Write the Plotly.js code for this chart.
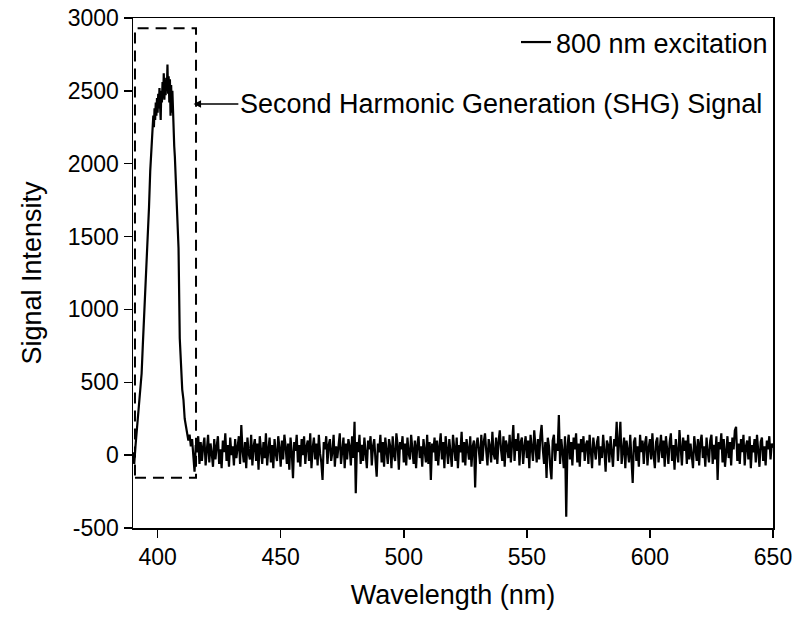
<!DOCTYPE html>
<html>
<head>
<meta charset="utf-8">
<script src="https://cdn.plot.ly/plotly-3.0.1.min.js"></script>
<style>html,body{margin:0;padding:0;background:#fff;}#chart{width:797px;height:617px;}</style>
</head>
<body>
<div id="chart"></div>
<script>
// SHG peak region
const peakWavelength = [390,390.5,391,391.5,392,392.5,393,393.5,394,394.5,395,395.5,396,396.5,397,397.5,
  398,398.25,398.5,398.75,399,399.25,399.5,399.75,400,400.25,400.5,400.75,401,401.25,401.5,401.75,
  402,402.25,402.5,402.75,403,403.25,403.5,403.75,404,404.25,404.5,404.75,405,405.25,405.5,405.75,
  406,406.25,406.5,406.75,407,407.5,408,408.5,409,409.5,410,410.5,411,411.5,412,412.5];
const peakSignal = [20,-60,60,150,260,380,430,560,760,950,1130,1330,1450,1700,1950,2100,
  2200,2330,2250,2380,2300,2420,2330,2450,2350,2480,2380,2520,2400,2300,2500,2420,
  2560,2450,2620,2440,2560,2470,2590,2500,2680,2480,2600,2420,2580,2330,2540,2350,
  2500,2300,2200,2120,2050,1850,1650,1420,800,600,450,380,250,200,150,100];
// Baseline region (0.5 nm sampling)
const baseWavelength = [
  413,413.5,414,414.5,415,415.5,416,416.5,417,417.5, 418,418.5,419,419.5,420,420.5,421,421.5,422,422.5,
  423,423.5,424,424.5,425,425.5,426,426.5,427,427.5, 428,428.5,429,429.5,430,430.5,431,431.5,432,432.5,
  433,433.5,434,434.5,435,435.5,436,436.5,437,437.5, 438,438.5,439,439.5,440,440.5,441,441.5,442,442.5,
  443,443.5,444,444.5,445,445.5,446,446.5,447,447.5, 448,448.5,449,449.5,450,450.5,451,451.5,452,452.5,
  453,453.5,454,454.5,455,455.5,456,456.5,457,457.5, 458,458.5,459,459.5,460,460.5,461,461.5,462,462.5,
  463,463.5,464,464.5,465,465.5,466,466.5,467,467.5, 468,468.5,469,469.5,470,470.5,471,471.5,472,472.5,
  473,473.5,474,474.5,475,475.5,476,476.5,477,477.5, 478,478.5,479,479.5,480,480.5,481,481.5,482,482.5,
  483,483.5,484,484.5,485,485.5,486,486.5,487,487.5, 488,488.5,489,489.5,490,490.5,491,491.5,492,492.5,
  493,493.5,494,494.5,495,495.5,496,496.5,497,497.5, 498,498.5,499,499.5,500,500.5,501,501.5,502,502.5,
  503,503.5,504,504.5,505,505.5,506,506.5,507,507.5, 508,508.5,509,509.5,510,510.5,511,511.5,512,512.5,
  513,513.5,514,514.5,515,515.5,516,516.5,517,517.5, 518,518.5,519,519.5,520,520.5,521,521.5,522,522.5,
  523,523.5,524,524.5,525,525.5,526,526.5,527,527.5, 528,528.5,529,529.5,530,530.5,531,531.5,532,532.5,
  533,533.5,534,534.5,535,535.5,536,536.5,537,537.5, 538,538.5,539,539.5,540,540.5,541,541.5,542,542.5,
  543,543.5,544,544.5,545,545.5,546,546.5,547,547.5, 548,548.5,549,549.5,550,550.5,551,551.5,552,552.5,
  553,553.5,554,554.5,555,555.5,556,556.5,557,557.5, 558,558.5,559,559.5,560,560.5,561,561.5,562,562.5,
  563,563.5,564,564.5,565,565.5,566,566.5,567,567.5, 568,568.5,569,569.5,570,570.5,571,571.5,572,572.5,
  573,573.5,574,574.5,575,575.5,576,576.5,577,577.5, 578,578.5,579,579.5,580,580.5,581,581.5,582,582.5,
  583,583.5,584,584.5,585,585.5,586,586.5,587,587.5, 588,588.5,589,589.5,590,590.5,591,591.5,592,592.5,
  593,593.5,594,594.5,595,595.5,596,596.5,597,597.5, 598,598.5,599,599.5,600,600.5,601,601.5,602,602.5,
  603,603.5,604,604.5,605,605.5,606,606.5,607,607.5, 608,608.5,609,609.5,610,610.5,611,611.5,612,612.5,
  613,613.5,614,614.5,615,615.5,616,616.5,617,617.5, 618,618.5,619,619.5,620,620.5,621,621.5,622,622.5,
  623,623.5,624,624.5,625,625.5,626,626.5,627,627.5, 628,628.5,629,629.5,630,630.5,631,631.5,632,632.5,
  633,633.5,634,634.5,635,635.5,636,636.5,637,637.5, 638,638.5,639,639.5,640,640.5,641,641.5,642,642.5,
  643,643.5,644,644.5,645,645.5,646,646.5,647,647.5, 648,648.5,649,649.5,650];
const baseSignal = [
  140,60,110,-20,-114,70,20,130,-60,90,   -40,60,120,-70,30,140,-50,80,10,-80,
  110,-30,60,130,-60,40,-90,100,20,150,   -40,70,-80,120,0,60,-70,110,-20,50,
  130,-60,207,30,-50,90,-90,120,10,-30,   140,-70,60,110,-40,80,-100,130,20,-60,
  90,-20,150,-70,40,120,-50,70,-90,110,   10,-40,130,50,-80,100,-30,140,60,-60,
  80,-100,120,20,-159,90,30,140,-50,70,   -80,110,0,130,-60,60,100,-40,150,-90,
  50,120,-30,80,-70,140,10,-50,-170,90,   40,130,-60,70,110,-40,20,140,-80,60,
  -20,100,150,-60,30,120,-90,80,-30,110,  60,-70,130,-20,229,-262,90,20,140,-60,
  70,-40,120,10,-90,100,40,130,-70,60,    110,-30,-148,80,20,140,-50,90,-80,120,
  30,-60,110,60,-90,130,0,-40,150,70,     -100,90,40,130,-50,80,-70,120,10,-30,
  140,50,-60,100,-90,70,130,-20,60,-80,   110,30,-50,140,-60,90,-170,80,20,120,
  -40,100,-70,60,150,-30,90,-90,130,40,   -60,110,10,-80,140,50,-40,120,-90,70,
  20,160,-50,90,-70,110,40,-30,130,-80,   60,100,-221,70,120,20,-60,140,-40,90,
  150,30,-70,110,60,-50,160,10,-30,120,   -60,90,170,40,-40,130,-80,100,60,-20,
  140,-50,80,207,-40,110,30,150,-70,90,   120,-60,60,130,-20,100,-90,140,50,-40,
  170,20,-50,110,-30,130,207,40,-60,90,   -157,120,60,-80,-166,100,140,-40,80,30,
  275,-60,110,20,-90,130,-422,60,140,-30, 90,-70,120,40,150,-50,80,-80,110,20,
  130,-40,70,100,-60,140,10,-90,120,50,   -30,90,130,-70,60,-20,140,30,-114,100,
  70,-50,130,20,-80,110,60,229,-40,90,    229,-60,50,120,-90,100,30,-50,140,10,
  -191,90,120,-40,60,-80,140,20,100,-60,  80,130,-70,50,110,-30,150,0,-90,90,
  120,-50,60,140,-20,100,-80,130,40,-60,  90,150,-40,70,-100,110,20,-50,172,60,
  -70,120,30,100,-60,140,-30,80,10,-90,   130,50,-40,110,-70,90,140,-20,60,-80,
  120,20,-50,100,140,-60,70,-30,130,-170, 90,40,150,-50,110,-80,60,130,-20,90,
  -70,120,40,170,195,-40,80,-60,110,20,   140,-70,60,100,-30,130,-90,70,20,110,
  -50,140,30,-80,90,120,-40,60,-70,100,   40,130,-30,80,50];

const seriesName = '800 nm excitation';
const annotationText = 'Second Harmonic Generation (SHG) Signal';
const xTicks = [400,450,500,550,600,650];
const yTicks = [-500,0,500,1000,1500,2000,2500,3000];
// Dashed highlight box around the SHG peak (data units)
const boxWavelength = [390.8, 415.6];
const boxSignal = [-155, 2930];
// Arrow head / tail (data units)
const arrowHead = [414.6, 2410];
const arrowTail = [432.8, 2410];

const wavelength = peakWavelength.concat(baseWavelength);
const signal = peakSignal.concat(baseSignal);

const FONT = 'Liberation Sans, Arial, Helvetica, sans-serif';

const trace = {
  x: wavelength, y: signal, type: 'scatter', mode: 'lines',
  name: seriesName, line: {color: '#000', width: 2.2}
};

const layout = {
  width: 797, height: 617,
  margin: {l: 133, r: 24, t: 18, b: 89},
  paper_bgcolor: '#fff', plot_bgcolor: '#fff',
  font: {family: FONT, color: '#000'},
  showlegend: true,
  legend: {x: 1, xanchor: 'right', y: 1, yanchor: 'top', bgcolor: 'rgba(0,0,0,0)',
           font: {size: 27, family: FONT, color: '#000'}},
  xaxis: {
    range: [390, 650], tickvals: xTicks, ticktext: xTicks.map(String),
    ticks: 'outside', ticklen: 8, tickwidth: 1.5, tickcolor: '#000',
    showline: true, linecolor: '#000', linewidth: 1.5, mirror: true,
    showgrid: false, zeroline: false,
    tickfont: {size: 23, family: FONT},
    title: {text: 'Wavelength (nm)', font: {size: 27, family: FONT}, standoff: 16}
  },
  yaxis: {
    range: [-500, 3000], tickvals: yTicks, ticktext: yTicks.map(String),
    ticks: 'outside', ticklen: 8, tickwidth: 1.5, tickcolor: '#000',
    showline: true, linecolor: '#000', linewidth: 1.5, mirror: true,
    showgrid: false, zeroline: false,
    tickfont: {size: 23, family: FONT},
    title: {text: 'Signal Intensity', font: {size: 27, family: FONT}, standoff: 18}
  },
  shapes: [{
    type: 'rect', xref: 'x', yref: 'y',
    x0: boxWavelength[0], x1: boxWavelength[1], y0: boxSignal[0], y1: boxSignal[1],
    line: {color: '#000', width: 2, dash: '11px,7px'}, layer: 'below'
  }],
  annotations: [{
    x: arrowHead[0], y: arrowHead[1], xref: 'x', yref: 'y',
    ax: arrowTail[0], ay: arrowTail[1], axref: 'x', ayref: 'y',
    text: annotationText, showarrow: true, arrowhead: 2, arrowsize: 1, arrowwidth: 1.5,
    arrowcolor: '#000', xanchor: 'left', yanchor: 'middle',
    font: {size: 27, family: FONT, color: '#000'}
  }]
};

Plotly.newPlot('chart', [trace], layout, {displayModeBar: false, staticPlot: true});
</script>
</body>
</html>
